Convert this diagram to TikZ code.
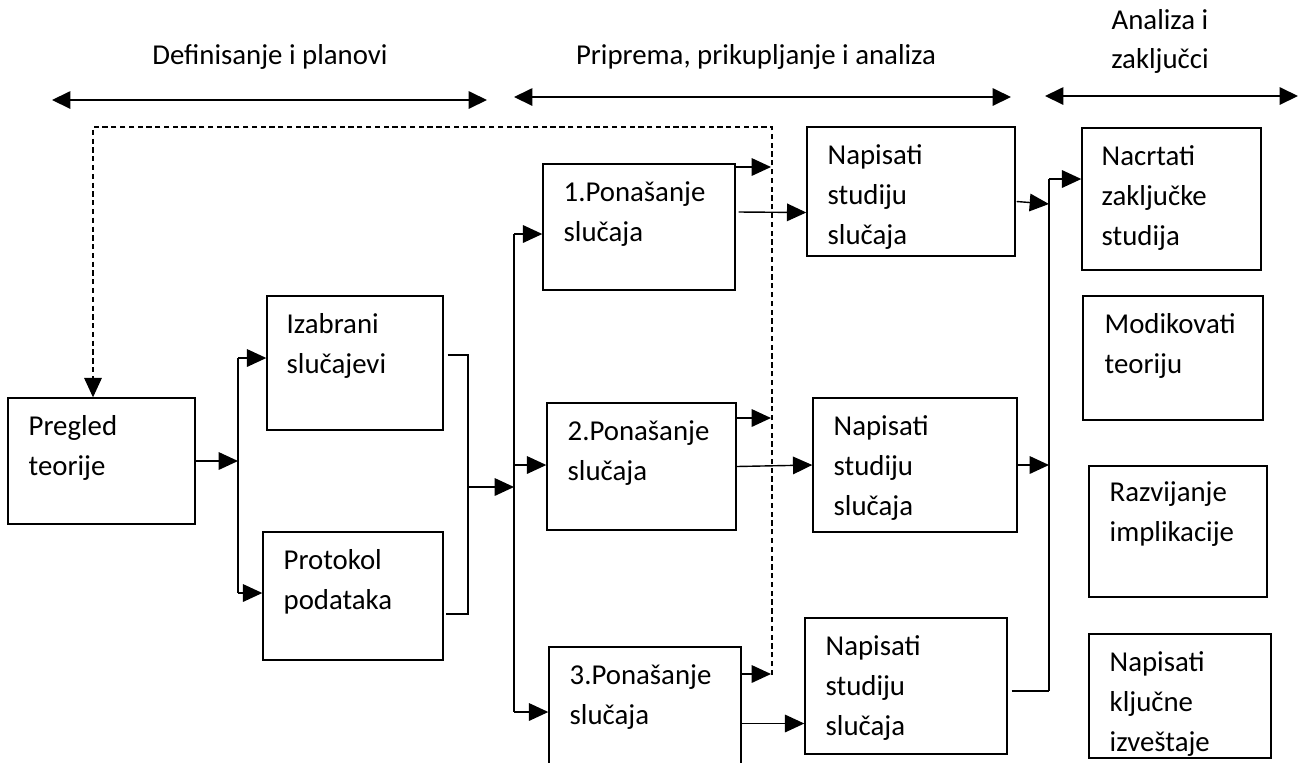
\documentclass[tikz,border=0pt]{standalone}
\usepackage{fontspec}
\setmainfont{Carlito}
\usetikzlibrary{arrows.meta,fit,calc}
\newcommand{\diagfont}{\fontsize{16.4}{22.7}\selectfont}
\newcommand{\stack}[2][l]{\begin{tabular}[t]{@{}#1@{}}#2\end{tabular}}

\begin{document}
\begin{tikzpicture}[x=0.02cm,y=-0.02cm,>={Triangle[length=11pt,width=10pt]},
  box/.style={draw,line width=0.8pt,inner sep=0pt},
  txt/.style={anchor=base west,inner sep=0pt,font=\diagfont},
  head/.style={anchor=base,inner sep=0pt,font=\diagfont},
  wire/.style={line width=0.8pt},
  phase/.style={line width=0.8pt,{Triangle[length=10.5pt,width=10pt]}-{Triangle[length=10.5pt,width=10pt]}},
  loopback/.style={line width=0.65pt,dash pattern=on 3pt off 2pt}]
  \useasboundingbox (0,0) rectangle (1302,762);

  % phases
  \node[head] (defhead) at (270,64) {Definisanje i planovi};
  \node[head] (prephead) at (756,64) {Priprema, prikupljanje i analiza};
  \node[head] (anahead) at (1160,29) {\stack[c]{Analiza i\\zaključci}};
  \coordinate (ph1a) at (52,100);   \coordinate (ph1b) at (487,100);
  \coordinate (ph2a) at (514,97);   \coordinate (ph2b) at (1011,97);
  \coordinate (ph3a) at (1045,96);  \coordinate (ph3b) at (1298,96);
  \draw[phase] (ph1a) -- (ph1b);
  \draw[phase] (ph2a) -- (ph2b);
  \draw[phase] (ph3a) -- (ph3b);

  % boxes
  \node[box,fit={(8,398) (195,524)}] (pregled) {};
  \node[txt] (pregledtxt) at ($(pregled.north west)+(21,38)$) {\stack{Pregled\\teorije}};
  \node[box,fit={(267,296) (443,430)}] (izab) {};
  \node[txt] (izabtxt) at ($(izab.north west)+(20,38)$) {\stack{Izabrani\\slučajevi}};
  \node[box,fit={(263,532) (443,660)}] (protok) {};
  \node[txt] (protoktxt) at ($(protok.north west)+(21,38)$) {\stack{Protokol\\podataka}};

  \node[box,fit={(543,164) (735,290)}] (pon1) {};
  \node[txt] (pon1txt) at ($(pon1.north west)+(21,38)$) {\stack{1.Ponašanje\\slučaja}};
  \node[box,fit={(547,403) (736,530)}] (pon2) {};
  \node[txt] (pon2txt) at ($(pon2.north west)+(21,38)$) {\stack{2.Ponašanje\\slučaja}};
  \node[box,fit={(549,647) (741,800)}] (pon3) {};
  \node[txt] (pon3txt) at ($(pon3.north west)+(21,38)$) {\stack{3.Ponašanje\\slučaja}};

  \node[box,fit={(807,127) (1015,256)}] (nap1) {};
  \node[txt] (nap1txt) at ($(nap1.north west)+(21,38)$) {\stack{Napisati\\studiju\\slučaja}};
  \node[box,fit={(813,398) (1017,532)}] (nap2) {};
  \node[txt] (nap2txt) at ($(nap2.north west)+(21,38)$) {\stack{Napisati\\studiju\\slučaja}};
  \node[box,fit={(805,618) (1007,754)}] (nap3) {};
  \node[txt] (nap3txt) at ($(nap3.north west)+(21,38)$) {\stack{Napisati\\studiju\\slučaja}};

  \node[box,fit={(1082,128) (1261,270)}] (nacrt) {};
  \node[txt] (nacrttxt) at ($(nacrt.north west)+(20,38)$) {\stack{Nacrtati\\zaključke\\studija}};
  \node[box,fit={(1083,296) (1263,420)}] (modik) {};
  \node[txt] (modiktxt) at ($(modik.north west)+(22,38)$) {\stack{Modikovati\\teoriju}};
  \node[box,fit={(1089,466) (1267,597)}] (razv) {};
  \node[txt] (razvtxt) at ($(razv.north west)+(21,36)$) {\stack{Razvijanje\\implikacije}};
  \node[box,fit={(1089,634) (1271,758)}] (kljuc) {};
  \node[txt] (kljuctxt) at ($(kljuc.north west)+(21,38)$) {\stack{Napisati\\ključne\\izveštaje}};

  % first split
  \coordinate (busAtop) at (238,358);
  \coordinate (busAbot) at (238,593);
  \draw[wire] (busAtop) -- (busAbot);
  \draw[wire,->] (pregled.east) -- (pregled.east -| busAtop);
  \draw[wire,->] (busAtop) -- (busAtop -| izab.west);
  \draw[wire,->] (busAbot) -- (busAbot -| protok.west);

  % join
  \coordinate (busBtop) at (468,355);
  \coordinate (busBbot) at (468,614);
  \coordinate (busBmid) at (468,487);
  \draw[wire] ($(izab.east |- busBtop)+(4,0)$) -- (busBtop) -- (busBbot) -- ($(protok.east |- busBbot)+(2,0)$);

  % cases
  \coordinate (busCtop) at (514,234);
  \coordinate (busCmid) at (514,465);
  \coordinate (busCbot) at (514,712);
  \draw[wire,->] (busBmid) -- (busBmid -| busCtop);
  \draw[wire] (busCtop) -- (busCbot);
  \draw[wire,->] (busCtop) -- (busCtop -| pon1.west);
  \draw[wire,->] (busCmid) -- (busCmid -| pon2.west);
  \draw[wire,->] (busCbot) -- (busCbot -| pon3.west);

  % feedback to theory
  \coordinate (fbtl) at (93,127);
  \coordinate (fbtr) at (772,127);
  \coordinate (fbbot) at (772,675);
  \draw[loopback,->] (fbbot) -- (fbtr) -- (fbtl) -- (fbtl |- pregled.north);
  \coordinate (hit1) at (771,167);
  \coordinate (hit2) at (771,418);
  \coordinate (hit3) at (771,674);
  \draw[wire,->] (pon1.east |- hit1) -- (hit1);
  \draw[wire,->] (pon2.east |- hit2) -- (hit2);
  \draw[wire,->] (pon3.east |- hit3) -- (hit3);

  \draw[wire,->] ($(pon1.east)+(3,-15)$) -- ($(nap1.west)+(0,21)$);
  \draw[wire,->] (pon2.east) -- (nap2.west);
  \draw[wire,->] (pon3.east) -- (pon3.east -| nap3.west);

  % conclusions
  \coordinate (busDtop) at (1049,179);
  \coordinate (busDbot) at (1049,691);
  \draw[wire] (busDtop) -- (busDbot);
  \draw[wire,->] ($(nap1.east)+(1,10)$) -- ($(busDtop)+(0,25)$);
  \draw[wire,->] (nap2.east) -- (nap2.east -| busDtop);
  \draw[wire] ($(nap3.east)+(4,5)$) -- (busDbot);
  \draw[wire,->] (busDtop) -- (busDtop -| nacrt.west);
\end{tikzpicture}
\end{document}
